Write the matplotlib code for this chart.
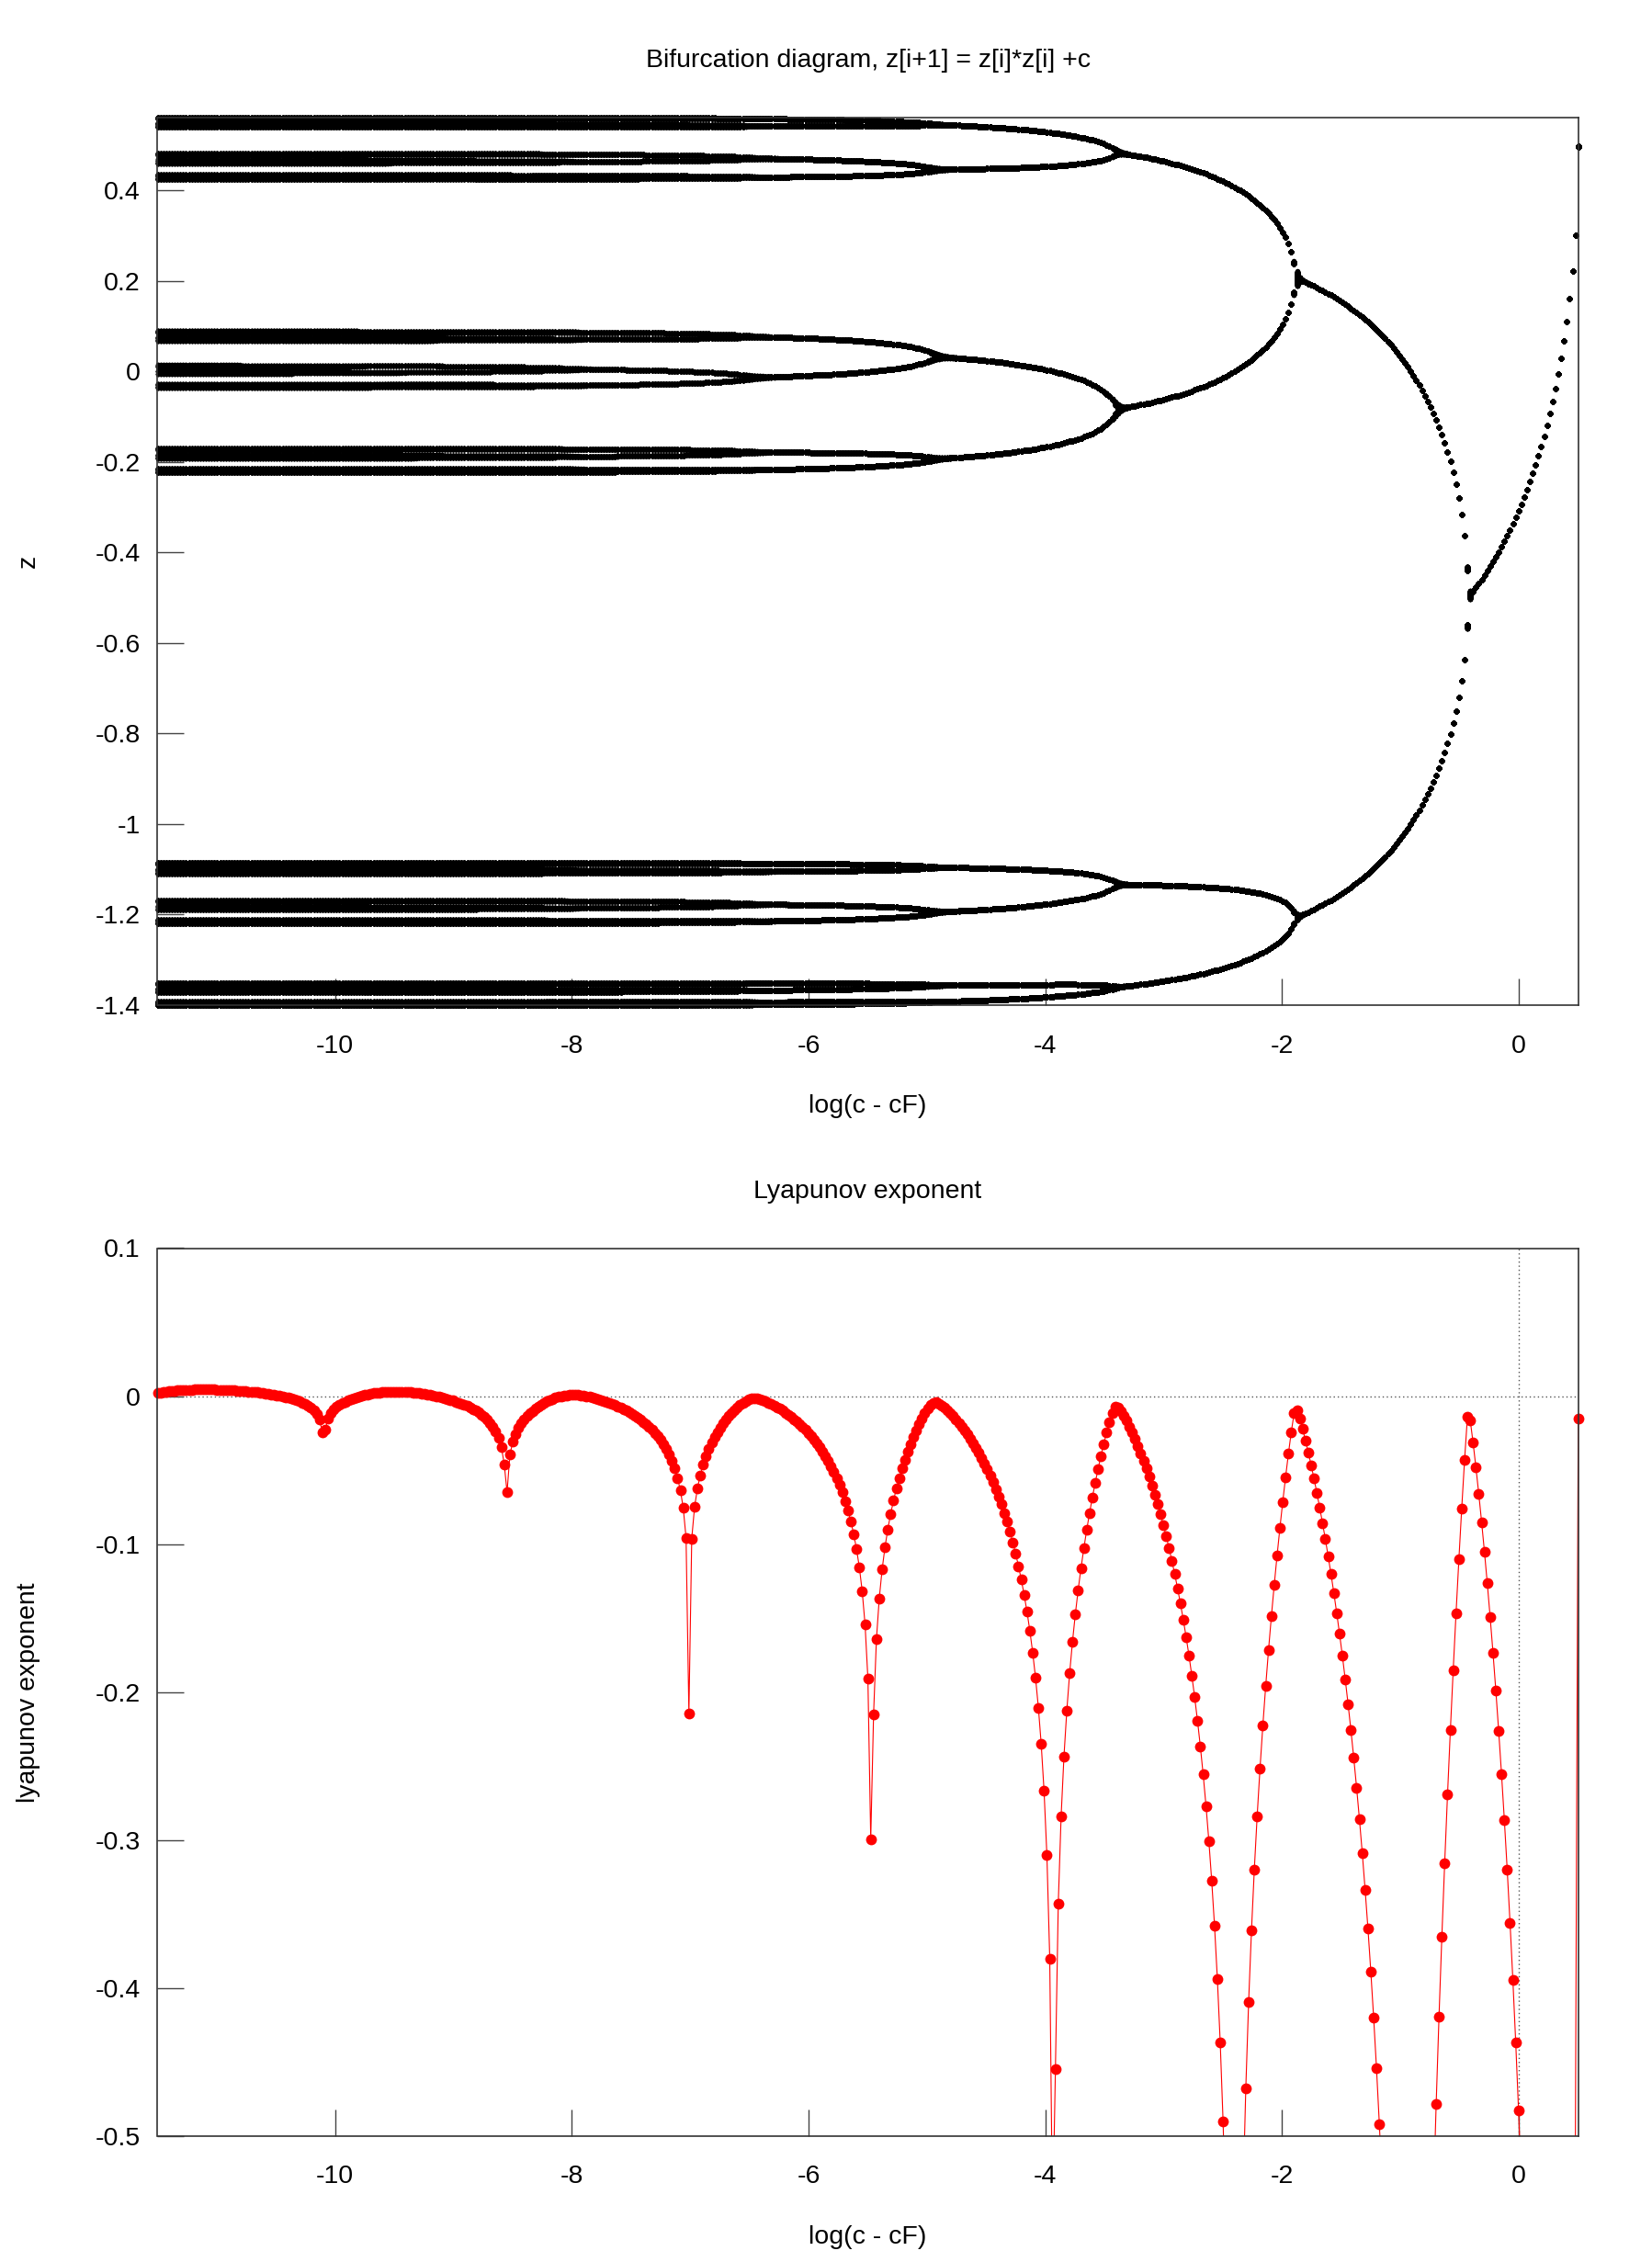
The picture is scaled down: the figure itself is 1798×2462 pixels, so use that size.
import numpy as np
import matplotlib
matplotlib.use("Agg")
import matplotlib.pyplot as plt
from matplotlib.ticker import FuncFormatter, MultipleLocator

C_F = -1.401155      # Feigenbaum point
LOG_DC_MIN = -11.5
C_MAX = 0.25
N_C = 501
N_ITER = 700         # iterations per c, lyapunov averaged over all of them
N_SKIP = 200         # first iterates not drawn in the bifurcation diagram

log_dc = np.linspace(LOG_DC_MIN, np.log(C_MAX - C_F), N_C)
c = C_F + np.exp(log_dc)

z = np.zeros_like(c)
zs = np.empty((N_ITER, c.size))
for i in range(N_ITER):
    z = z * z + c
    zs[i] = z
lyap = np.mean(np.log(np.abs(2 * zs)), axis=0)
zb = zs[N_SKIP:]

plt.rcParams['font.family'] = ['Liberation Sans', 'DejaVu Sans']
plt.rcParams['font.size'] = 20.5
fmt = FuncFormatter(lambda v, p: '%g' % round(v, 6))

fig = plt.figure(figsize=(17.99, 24.62), dpi=100)
W, H = 1799.0, 2462.0
L, R = 171.5, 1717.7

# bifurcation diagram
ax1 = fig.add_axes([L / W, 1 - 1094.3 / H, (R - L) / W, (1094.3 - 127.5) / H])
ax1.plot(np.tile(log_dc, zb.shape[0]), zb.ravel(), 'o', color='black', ms=4, mew=0, clip_on=False)
ax1.set_xlim(log_dc[0], log_dc[-1])
ax1.set_ylim(zb.min(), zb.max())
ax1.yaxis.set_major_locator(MultipleLocator(0.2))

# lyapunov exponent
ax2 = fig.add_axes([L / W, 1 - 2325.0 / H, (R - L) / W, (2325.0 - 1358.5) / H])
ax2.axhline(0, color='#555555', lw=1, ls=(0, (1, 2.2)))
ax2.axvline(0, color='#555555', lw=1, ls=(0, (1, 2.2)))
ax2.plot(log_dc, lyap, '-', color='#ff0000', lw=0.8)
inside = (lyap >= -0.5) & (lyap <= 0.1)
ax2.plot(log_dc[inside], lyap[inside], 'o', color='#ff0000', ms=8.5, mew=0, clip_on=False)
ax2.set_xlim(log_dc[0], log_dc[-1])
ax2.set_ylim(-0.5, 0.1)
ax2.yaxis.set_major_locator(MultipleLocator(0.1))

for ax in (ax1, ax2):
    ax.xaxis.set_major_locator(MultipleLocator(2))
    ax.xaxis.set_major_formatter(fmt)
    ax.yaxis.set_major_formatter(fmt)
    ax.tick_params(direction='in', length=21, width=1, color='#444444',
                   top=False, right=False)
    ax.tick_params(axis='x', pad=22.5)
    ax.tick_params(axis='y', pad=13.5)
    for s in ax.spines.values():
        s.set_linewidth(1.2)
        s.set_color('#333333')

cx = (L + R) / 2 / W
fig.text(cx, 1 - 66 / H, 'Bifurcation diagram, z[i+1] = z[i]*z[i] +c', ha='center', va='center')
fig.text(cx, 1 - 1204 / H, 'log(c - cF)', ha='center', va='center')
fig.text(31 / W, 1 - 610.9 / H, 'z', ha='center', va='center', rotation=90)
fig.text(cx, 1 - 1296.5 / H, 'Lyapunov exponent', ha='center', va='center')
fig.text(cx, 1 - 2434.6 / H, 'log(c - cF)', ha='center', va='center')
fig.text(31 / W, 1 - 1841.7 / H, 'lyapunov exponent', ha='center', va='center', rotation=90)

fig.savefig('out.png', dpi=100)
